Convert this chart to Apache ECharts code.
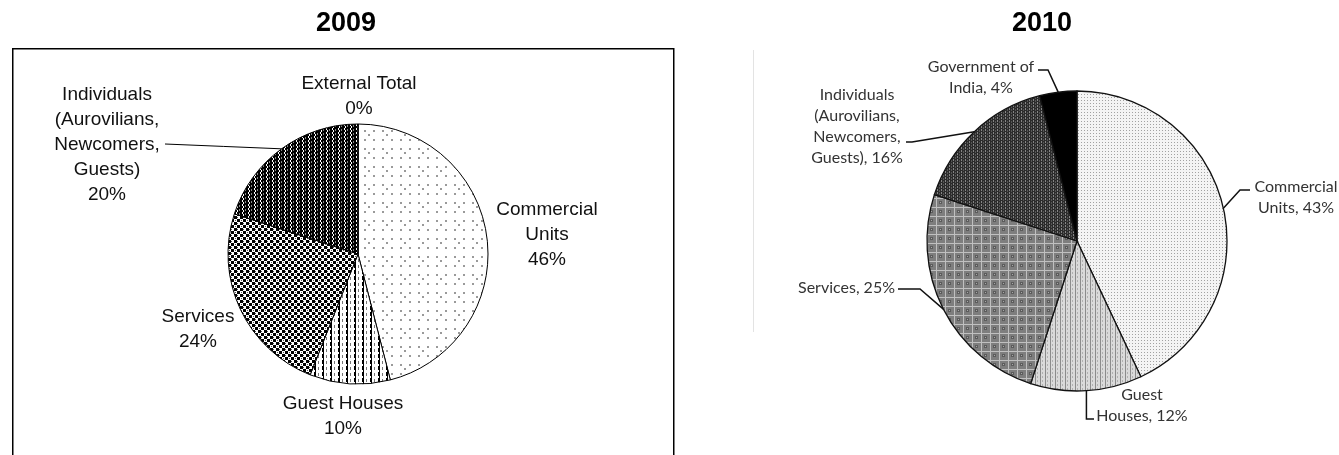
<!DOCTYPE html>
<html>
<head>
<meta charset="utf-8">
<script src="https://cdn.jsdelivr.net/npm/echarts@6/dist/echarts.min.js"></script>
<style>
html,body{margin:0;padding:0;background:#fff;}
#chart{width:1339px;height:455px;}
</style>
</head>
<body>
<div id="chart"></div>
<script>
// ---------- data ----------
const titles = ['2009', '2010'];

const categories2009 = ['Commercial Units', 'Guest Houses', 'Services', 'Individuals (Aurovilians, Newcomers, Guests)', 'External Total'];
const values2009 = [46, 10, 24, 20, 0];
const labels2009 = ['Commercial\nUnits', 'Guest Houses', 'Services', 'Individuals\n(Aurovilians,\nNewcomers,\nGuests)', 'External Total'];

const categories2010 = ['Commercial Units', 'Guest Houses', 'Services', 'Individuals (Aurovilians, Newcomers, Guests)', 'Government of India'];
const values2010 = [43, 12, 25, 16, 4];
const labels2010 = ['Commercial\nUnits', 'Guest\nHouses', 'Services', 'Individuals\n(Aurovilians,\nNewcomers,\nGuests)', 'Government of\nIndia'];

// ---------- fill patterns ----------
function tile(w, h, bg, draw) {
  const c = document.createElement('canvas');
  c.width = w; c.height = h;
  const g = c.getContext('2d');
  g.fillStyle = bg; g.fillRect(0, 0, w, h);
  draw(g);
  return { image: c, repeat: 'repeat' };
}
const patterns2009 = [
  tile(18, 18, '#ffffff', g => {
    g.fillStyle = '#9a9a9a';
    [[4, 4], [13, 4], [4, 13], [13, 13], [8, 8]].forEach(p => g.fillRect(p[0], p[1], 2, 2));
  }),
  tile(8, 6, '#ffffff', g => { g.fillStyle = '#000'; g.fillRect(2, 0, 2, 4); g.fillRect(3, 4, 1, 2); g.fillStyle = '#777'; g.fillRect(6, 1, 1, 3); }),
  tile(6, 6, '#ffffff', g => { g.fillStyle = '#000'; g.fillRect(0, 0, 3, 3); g.fillRect(3, 3, 3, 3); g.fillStyle = '#555'; g.fillRect(3, 1, 1, 1); g.fillRect(1, 4, 1, 1); }),
  tile(6, 4, '#000000', g => { g.fillStyle = '#fff'; g.fillRect(2, 0, 1, 2); g.fillRect(3, 2, 1, 2); g.fillStyle = '#888'; g.fillRect(5, 1, 1, 2); }),
  '#ffffff'
];
const patterns2010 = [
  tile(3, 3, '#f4f4f4', g => { g.fillStyle = '#a2a2a2'; g.fillRect(1, 1, 1, 1); }),
  tile(5, 4, '#dadada', g => { g.fillStyle = '#8c8c8c'; g.fillRect(0, 0, 1, 4); g.fillStyle = '#b0b0b0'; g.fillRect(2, 0, 1, 2); }),
  tile(9, 9, '#7e7e7e', g => { g.fillStyle = '#c0c0c0'; g.fillRect(0, 0, 9, 1); g.fillRect(0, 0, 1, 9); g.fillStyle = '#5c5c5c'; g.fillRect(3, 3, 3, 3); g.fillStyle = '#a8a8a8'; g.fillRect(4, 4, 1, 1); }),
  tile(4, 3, '#2b2b2b', g => { g.fillStyle = '#858585'; g.fillRect(1, 0, 1, 2); g.fillStyle = '#555'; g.fillRect(3, 1, 1, 2); }),
  '#000000'
];

// ---------- label layout (styling) ----------
const layout2009 = [
  { x: 547, y: 235, align: 'center' },
  { x: 343, y: 416, align: 'center' },
  { x: 198, y: 329, align: 'center' },
  { x: 107, y: 145, align: 'center', guide: { end: [165, 144] } },
  { x: 359, y: 96, align: 'center' }
];
const lines2009 = [false, false, false, true, false];

const layout2010 = [
  { x: 1296, y: 197, align: 'center', guide: { mid: [1240, 190], end: [1250, 190] } },
  { x: 1142, y: 405, align: 'center', guide: { mid: [null, 419], end: [1094, 419] } },
  { x: 895, y: 288, align: 'right', guide: { mid: [920, 289], end: [898, 289] } },
  { x: 857, y: 126, align: 'center', guide: { mid: [912, 142], end: [906, 142] } },
  { x: 981, y: 77, align: 'center', guide: { mid: [1048, 70], end: [1038, 70] } }
];

function makeLayout(cfg) {
  return function (params) {
    const c = cfg[params.dataIndex];
    const res = { x: c.x, y: c.y, align: c.align, verticalAlign: 'middle' };
    if (c.guide && params.labelLinePoints && params.labelLinePoints[0]) {
      const p0 = params.labelLinePoints[0];
      let mid;
      if (c.guide.mid) {
        mid = [c.guide.mid[0] == null ? p0[0] : c.guide.mid[0], c.guide.mid[1]];
      } else {
        mid = [(p0[0] + c.guide.end[0]) / 2, (p0[1] + c.guide.end[1]) / 2];
      }
      res.labelLinePoints = [p0, mid, c.guide.end];
    }
    return res;
  };
}

const chart = echarts.init(document.getElementById('chart'), null, { renderer: 'canvas' });

const option = {
  animation: false,
  backgroundColor: '#ffffff',
  title: [
    { text: titles[0], left: 346, top: 10, textAlign: 'center', padding: 0,
      textStyle: { fontFamily: 'Liberation Sans', fontSize: 27, fontWeight: 'bold', color: '#000' } },
    { text: titles[1], left: 1042, top: 10, textAlign: 'center', padding: 0,
      textStyle: { fontFamily: 'Liberation Sans', fontSize: 27, fontWeight: 'bold', color: '#000' } }
  ],
  graphic: [
    { type: 'rect', silent: true, z: -10,
      shape: { x: 12.75, y: 48.75, width: 661, height: 430 },
      style: { fill: 'none', stroke: '#000', lineWidth: 1.5 } },
    { type: 'line', silent: true, z: -10,
      shape: { x1: 753.5, y1: 50, x2: 753.5, y2: 332 },
      style: { stroke: '#e3e3e3', lineWidth: 1 } }
  ],
  series: [
    {
      type: 'pie',
      center: [358, 254],
      radius: 130,
      startAngle: 90,
      clockwise: true,
      avoidLabelOverlap: false,
      percentPrecision: 0,
      silent: true,
      itemStyle: { borderColor: '#000', borderWidth: 1 },
      label: {
        show: true,
        position: 'outside',
        overflow: 'none',
        fontFamily: 'Liberation Sans',
        fontSize: 19,
        lineHeight: 25,
        color: '#111',
        formatter: p => labels2009[p.dataIndex] + '\n' + p.percent + '%'
      },
      labelLine: { show: true, length: 10, length2: 10, smooth: false, lineStyle: { color: '#000', width: 1 } },
      labelLayout: makeLayout(layout2009),
      data: values2009.map((v, i) => ({
        name: categories2009[i],
        value: v,
        itemStyle: { color: patterns2009[i] },
        labelLine: { show: lines2009[i] }
      }))
    },
    {
      type: 'pie',
      center: [1077, 241],
      radius: 150,
      startAngle: 90,
      clockwise: true,
      avoidLabelOverlap: false,
      percentPrecision: 0,
      silent: true,
      itemStyle: { borderColor: '#111', borderWidth: 1.3 },
      label: {
        show: true,
        position: 'outside',
        overflow: 'none',
        fontFamily: 'Lato',
        fontSize: 16,
        lineHeight: 21,
        color: '#333',
        formatter: p => labels2010[p.dataIndex] + ', ' + p.percent + '%'
      },
      labelLine: { show: true, length: 10, length2: 10, smooth: false, lineStyle: { color: '#111', width: 1.5 } },
      labelLayout: makeLayout(layout2010),
      data: values2010.map((v, i) => ({
        name: categories2010[i],
        value: v,
        itemStyle: { color: patterns2010[i] }
      }))
    }
  ]
};
chart.setOption(option);
</script>
</body>
</html>
